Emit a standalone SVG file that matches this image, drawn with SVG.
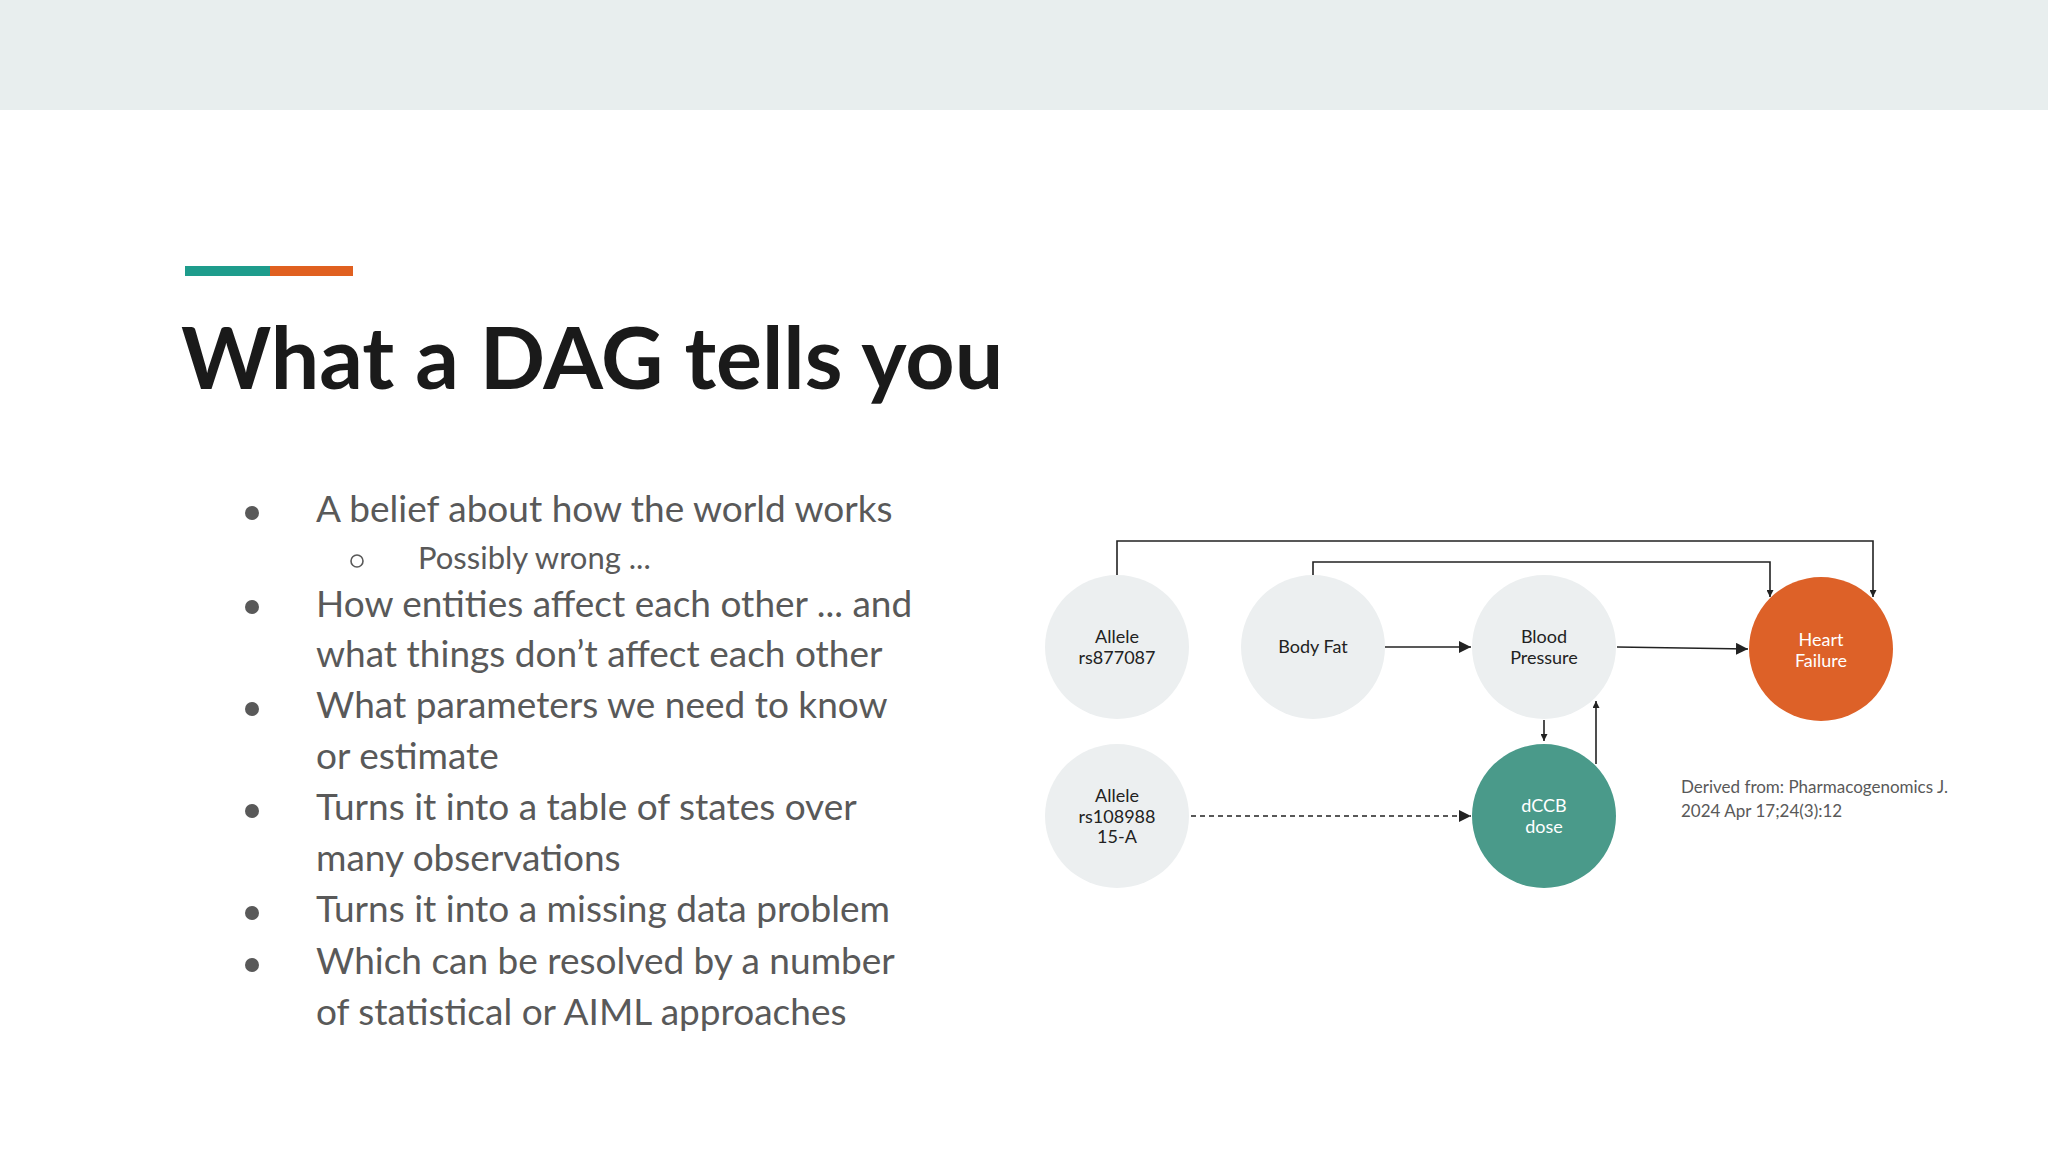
<svg xmlns="http://www.w3.org/2000/svg" width="2048" height="1152" viewBox="0 0 2048 1152">
<defs>
<marker id="ah" viewBox="0 0 10 10" refX="10" refY="5" markerWidth="7" markerHeight="7" orient="auto" markerUnits="userSpaceOnUse"><path d="M0,0 L10,5 L0,10 z" fill="#222"/></marker>
<marker id="ah2" viewBox="0 0 10 10" refX="10" refY="5" markerWidth="12" markerHeight="12" orient="auto" markerUnits="userSpaceOnUse"><path d="M0,0 L10,5 L0,10 z" fill="#222"/></marker>
</defs>
<style>
.b{font-family:Lato,"Open Sans",sans-serif;font-size:37px;fill:#595959}
.s{font-family:Lato,"Open Sans",sans-serif;font-size:31px;fill:#595959}
.n{font-family:Lato,"Open Sans",sans-serif;font-size:18px;text-anchor:middle;fill:#222}
.w{fill:#fff}
.g{fill:#eceff0}
.c{stroke:#222;stroke-width:1.6;fill:none}
</style>
<rect width="2048" height="1152" fill="#fff"/>
<rect width="2048" height="110" fill="#e8eeee"/>
<rect x="185" y="266" width="86" height="10" fill="#1e9c8c"/>
<rect x="270" y="266" width="83" height="10" fill="#e06020"/>
<text x="181" y="389" font-family="Lato,'Open Sans',sans-serif" font-weight="bold" font-size="86" fill="#1a1a1a">What a DAG tells you</text>
<g>
<circle cx="252" cy="513" r="7" fill="#595959"/><text class="b" x="316" y="522">A belief about how the world works</text>
<circle cx="357" cy="561" r="6" fill="none" stroke="#595959" stroke-width="1.6"/><text class="s" x="418" y="569">Possibly wrong ...</text>
<circle cx="252" cy="607" r="7" fill="#595959"/><text class="b" x="316" y="617">How entities affect each other ... and</text>
<text class="b" x="316" y="667">what things don’t affect each other</text>
<circle cx="252" cy="709" r="7" fill="#595959"/><text class="b" x="316" y="718">What parameters we need to know</text>
<text class="b" x="316" y="769">or estimate</text>
<circle cx="252" cy="811" r="7" fill="#595959"/><text class="b" x="316" y="820">Turns it into a table of states over</text>
<text class="b" x="316" y="871">many observations</text>
<circle cx="252" cy="913" r="7" fill="#595959"/><text class="b" x="316" y="922">Turns it into a missing data problem</text>
<circle cx="252" cy="965" r="7" fill="#595959"/><text class="b" x="316" y="974">Which can be resolved by a number</text>
<text class="b" x="316" y="1025">of statistical or AIML approaches</text>
</g>
<g id="connectors">
<path class="c" d="M1117,575 V541 H1873 V597" marker-end="url(#ah)"/>
<path class="c" d="M1313,575 V562 H1770 V597" marker-end="url(#ah)"/>
<path class="c" d="M1385,647 H1471" marker-end="url(#ah2)"/>
<path class="c" d="M1617,647 L1748,649" marker-end="url(#ah2)"/>
<path class="c" d="M1544,720 V741" marker-end="url(#ah)"/>
<path class="c" d="M1596,764 V701" marker-end="url(#ah)"/>
<path class="c" d="M1191,816 H1471" stroke-dasharray="5,4" marker-end="url(#ah2)"/>
</g>
<g id="allele1"><circle class="g" cx="1117" cy="647" r="72"/><text class="n" x="1117" y="643">Allele</text><text class="n" x="1117" y="664">rs877087</text></g>
<g id="bodyfat"><circle class="g" cx="1313" cy="647" r="72"/><text class="n" x="1313" y="653">Body Fat</text></g>
<g id="bp"><circle class="g" cx="1544" cy="647" r="72"/><text class="n" x="1544" y="643">Blood</text><text class="n" x="1544" y="664">Pressure</text></g>
<g id="hf"><circle fill="#dd6128" cx="1821" cy="649" r="72"/><text class="n w" x="1821" y="646">Heart</text><text class="n w" x="1821" y="667">Failure</text></g>
<g id="allele2"><circle class="g" cx="1117" cy="816" r="72"/><text class="n" x="1117" y="802">Allele</text><text class="n" x="1117" y="823">rs108988</text><text class="n" x="1117" y="843">15-A</text></g>
<g id="dccb"><circle fill="#4a9a8a" cx="1544" cy="816" r="72"/><text class="n w" x="1544" y="812">dCCB</text><text class="n w" x="1544" y="833">dose</text></g>
<text font-family="Lato,'Open Sans',sans-serif" font-size="17" fill="#595959" x="1681" y="793">Derived from: Pharmacogenomics J.</text>
<text font-family="Lato,'Open Sans',sans-serif" font-size="17" fill="#595959" x="1681" y="817">2024 Apr 17;24(3):12</text>
</svg>
